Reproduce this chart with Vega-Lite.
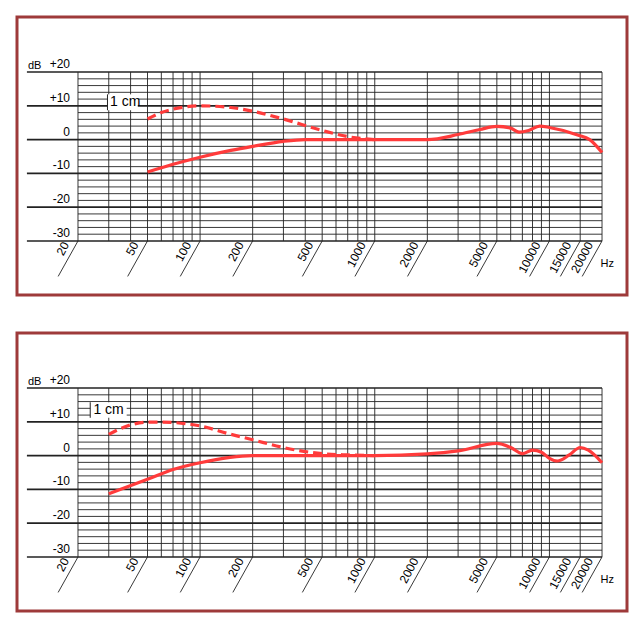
{
"$schema":"https://vega.github.io/schema/vega-lite/v6.json",
"autosize":{"type":"pad"},
"padding":{"left":15,"top":15,"right":0,"bottom":0},
"spacing":34,
"config":{"view":{"stroke":"#9e3a3a","strokeWidth":3},"text":{"font":"Liberation Sans","fontSize":12}},
"datasets":{
"vl":[{"f":20},{"f":30},{"f":40},{"f":50},{"f":60},{"f":70},{"f":80},{"f":90},{"f":100},{"f":200},{"f":300},{"f":400},{"f":500},{"f":600},{"f":700},{"f":800},{"f":900},{"f":1000},{"f":2000},{"f":3000},{"f":4000},{"f":5000},{"f":6000},{"f":7000},{"f":8000},{"f":9000},{"f":10000},{"f":15000},{"f":20000}],
"hl":[{"y":-30,"m":1},{"y":-28,"m":0},{"y":-26,"m":0},{"y":-24,"m":0},{"y":-22,"m":0},{"y":-20,"m":1},{"y":-18,"m":0},{"y":-16,"m":0},{"y":-14,"m":0},{"y":-12,"m":0},{"y":-10,"m":1},{"y":-8,"m":0},{"y":-6,"m":0},{"y":-4,"m":0},{"y":-2,"m":0},{"y":0,"m":1},{"y":2,"m":0},{"y":4,"m":0},{"y":6,"m":0},{"y":8,"m":0},{"y":10,"m":1},{"y":12,"m":0},{"y":14,"m":0},{"y":16,"m":0},{"y":18,"m":0},{"y":20,"m":1}],
"yl":[{"y":20,"t":"+20"},{"y":10,"t":"+10"},{"y":0,"t":"0"},{"y":-10,"t":"-10"},{"y":-20,"t":"-20"},{"y":-30,"t":"-30"}],
"xl":[{"f":20},{"f":50},{"f":100},{"f":200},{"f":500},{"f":1000},{"f":2000},{"f":5000},{"f":10000},{"f":15000},{"f":20000}],
"cv":[
{"p":1,"s":"solid","f":50,"v":-9.6},{"p":1,"s":"solid","f":70,"v":-7.3},{"p":1,"s":"solid","f":100,"v":-5.2},{"p":1,"s":"solid","f":150,"v":-3.2},{"p":1,"s":"solid","f":200,"v":-2},{"p":1,"s":"solid","f":300,"v":-0.5},{"p":1,"s":"solid","f":400,"v":0},{"p":1,"s":"solid","f":1000,"v":0},{"p":1,"s":"solid","f":2000,"v":0},{"p":1,"s":"solid","f":3000,"v":1.5},{"p":1,"s":"solid","f":4000,"v":3},{"p":1,"s":"solid","f":5000,"v":3.9},{"p":1,"s":"solid","f":6000,"v":3.4},{"p":1,"s":"solid","f":6700,"v":2.2},{"p":1,"s":"solid","f":7600,"v":2.7},{"p":1,"s":"solid","f":8800,"v":4},{"p":1,"s":"solid","f":10000,"v":3.6},{"p":1,"s":"solid","f":14500,"v":1.4},{"p":1,"s":"solid","f":17000,"v":0},{"p":1,"s":"solid","f":20000,"v":-3.8},
{"p":1,"s":"dash","f":50,"v":6.1},{"p":1,"s":"dash","f":60,"v":8},{"p":1,"s":"dash","f":80,"v":9.6},{"p":1,"s":"dash","f":100,"v":10},{"p":1,"s":"dash","f":150,"v":9.5},{"p":1,"s":"dash","f":200,"v":8.4},{"p":1,"s":"dash","f":300,"v":6.1},{"p":1,"s":"dash","f":500,"v":2.7},{"p":1,"s":"dash","f":700,"v":0.9},{"p":1,"s":"dash","f":1000,"v":0},
{"p":2,"s":"solid","f":30,"v":-11.3},{"p":2,"s":"solid","f":50,"v":-7},{"p":2,"s":"solid","f":70,"v":-4.1},{"p":2,"s":"solid","f":100,"v":-2.1},{"p":2,"s":"solid","f":200,"v":0},{"p":2,"s":"solid","f":1000,"v":0},{"p":2,"s":"solid","f":2000,"v":0.5},{"p":2,"s":"solid","f":3000,"v":1.4},{"p":2,"s":"solid","f":5000,"v":3.6},{"p":2,"s":"solid","f":6000,"v":2.4},{"p":2,"s":"solid","f":7000,"v":0.6},{"p":2,"s":"solid","f":8000,"v":1.6},{"p":2,"s":"solid","f":9000,"v":1.0},{"p":2,"s":"solid","f":10000,"v":-0.8},{"p":2,"s":"solid","f":11100,"v":-1.6},{"p":2,"s":"solid","f":13000,"v":0.2},{"p":2,"s":"solid","f":15000,"v":2.4},{"p":2,"s":"solid","f":16700,"v":1.6},{"p":2,"s":"solid","f":20000,"v":-2.1},
{"p":2,"s":"dash","f":30,"v":6.3},{"p":2,"s":"dash","f":40,"v":9.1},{"p":2,"s":"dash","f":50,"v":9.9},{"p":2,"s":"dash","f":60,"v":9.9},{"p":2,"s":"dash","f":100,"v":8.8},{"p":2,"s":"dash","f":150,"v":6.3},{"p":2,"s":"dash","f":200,"v":4.7},{"p":2,"s":"dash","f":300,"v":2.4},{"p":2,"s":"dash","f":400,"v":1.2},{"p":2,"s":"dash","f":500,"v":0.6},{"p":2,"s":"dash","f":700,"v":0.2},{"p":2,"s":"dash","f":1000,"v":0}],
"lab":[{"p":1,"x":29.5,"x2":44,"y":8.7,"y2":13.4,"tx":30.5,"ty":11},{"p":2,"x":23.5,"x2":38,"y":11.2,"y2":15.8,"tx":24.5,"ty":13.5}],
"misc":[{"x":11.3,"y":20,"t":"dB"},{"x":21400,"y":-38.6,"t":"Hz"}]
},
"vconcat":[
{"width":610,"height":278,
"layer":[
{"data":{"name":"vl"},"mark":{"type":"rule","color":"#222","strokeWidth":0.9},"encoding":{"x":{"field":"f","type":"quantitative","scale":{"type":"log","domain":[8.95,27800],"nice":false},"axis":null},"y":{"datum":-30,"type":"quantitative","scale":{"domain":[-46,36.3],"nice":false,"zero":false},"axis":null},"y2":{"datum":20}}},
{"data":{"name":"hl"},"transform":[{"calculate":"datum.m==1?10.2:20","as":"x0"}],"mark":{"type":"rule","color":"#222"},"encoding":{"x":{"field":"x0","type":"quantitative"},"x2":{"datum":20000},"y":{"field":"y","type":"quantitative"},"strokeWidth":{"field":"m","type":"quantitative","scale":{"domain":[0,1],"range":[0.9,1.6]},"legend":null}}},
{"data":{"name":"xl"},"transform":[{"calculate":"datum.f*0.77","as":"f2"}],"mark":{"type":"rule","color":"#222","strokeWidth":0.9},"encoding":{"x":{"field":"f","type":"quantitative"},"x2":{"field":"f2"},"y":{"datum":-30},"y2":{"datum":-40.5}}},
{"data":{"name":"xl"},"transform":[{"calculate":"datum.f*0.925","as":"f3"}],"mark":{"type":"text","angle":-62,"align":"right","baseline":"bottom","fontSize":12},"encoding":{"x":{"field":"f3","type":"quantitative"},"y":{"datum":-31.5},"text":{"field":"f"}}},
{"data":{"name":"yl"},"mark":{"type":"text","align":"right","baseline":"bottom","dy":-1},"encoding":{"x":{"datum":18},"y":{"field":"y","type":"quantitative"},"text":{"field":"t"}}},
{"data":{"name":"misc"},"mark":{"type":"text","baseline":"bottom","dy":-1,"fontSize":11},"encoding":{"x":{"field":"x","type":"quantitative"},"y":{"field":"y","type":"quantitative"},"text":{"field":"t"}}},
{"data":{"name":"lab"},"transform":[{"filter":"datum.p==1"}],"mark":{"type":"rect","fill":"white"},"encoding":{"x":{"field":"x","type":"quantitative"},"x2":{"field":"x2"},"y":{"field":"y","type":"quantitative"},"y2":{"field":"y2"}}},
{"data":{"name":"lab"},"transform":[{"filter":"datum.p==1"}],"mark":{"type":"rule","color":"#222"},"encoding":{"x":{"field":"x","type":"quantitative"},"y":{"field":"y","type":"quantitative"},"y2":{"field":"y2"}}},
{"data":{"name":"lab"},"transform":[{"filter":"datum.p==1"}],"mark":{"type":"text","align":"left","fontSize":14,"text":"1 cm"},"encoding":{"x":{"field":"tx","type":"quantitative"},"y":{"field":"ty","type":"quantitative"}}},
{"data":{"name":"cv"},"transform":[{"filter":"datum.p==1 && datum.s=='solid'"}],"mark":{"type":"line","color":"#ff3b3b","strokeWidth":3.2,"interpolate":"monotone"},"encoding":{"x":{"field":"f","type":"quantitative"},"y":{"field":"v","type":"quantitative"}}},
{"data":{"name":"cv"},"transform":[{"filter":"datum.p==1 && datum.s=='dash'"}],"mark":{"type":"line","color":"#ff3b3b","strokeWidth":3.2,"strokeDash":[9,5],"interpolate":"monotone"},"encoding":{"x":{"field":"f","type":"quantitative"},"y":{"field":"v","type":"quantitative"}}}
]},
{"width":610,"height":278,
"layer":[
{"data":{"name":"vl"},"mark":{"type":"rule","color":"#222","strokeWidth":0.9},"encoding":{"x":{"field":"f","type":"quantitative","scale":{"type":"log","domain":[8.95,27800],"nice":false},"axis":null},"y":{"datum":-30,"type":"quantitative","scale":{"domain":[-46,36.3],"nice":false,"zero":false},"axis":null},"y2":{"datum":20}}},
{"data":{"name":"hl"},"transform":[{"calculate":"datum.m==1?10.2:20","as":"x0"}],"mark":{"type":"rule","color":"#222"},"encoding":{"x":{"field":"x0","type":"quantitative"},"x2":{"datum":20000},"y":{"field":"y","type":"quantitative"},"strokeWidth":{"field":"m","type":"quantitative","scale":{"domain":[0,1],"range":[0.9,1.6]},"legend":null}}},
{"data":{"name":"xl"},"transform":[{"calculate":"datum.f*0.77","as":"f2"}],"mark":{"type":"rule","color":"#222","strokeWidth":0.9},"encoding":{"x":{"field":"f","type":"quantitative"},"x2":{"field":"f2"},"y":{"datum":-30},"y2":{"datum":-40.5}}},
{"data":{"name":"xl"},"transform":[{"calculate":"datum.f*0.925","as":"f3"}],"mark":{"type":"text","angle":-62,"align":"right","baseline":"bottom","fontSize":12},"encoding":{"x":{"field":"f3","type":"quantitative"},"y":{"datum":-31.5},"text":{"field":"f"}}},
{"data":{"name":"yl"},"mark":{"type":"text","align":"right","baseline":"bottom","dy":-1},"encoding":{"x":{"datum":18},"y":{"field":"y","type":"quantitative"},"text":{"field":"t"}}},
{"data":{"name":"misc"},"mark":{"type":"text","baseline":"bottom","dy":-1,"fontSize":11},"encoding":{"x":{"field":"x","type":"quantitative"},"y":{"field":"y","type":"quantitative"},"text":{"field":"t"}}},
{"data":{"name":"lab"},"transform":[{"filter":"datum.p==2"}],"mark":{"type":"rect","fill":"white"},"encoding":{"x":{"field":"x","type":"quantitative"},"x2":{"field":"x2"},"y":{"field":"y","type":"quantitative"},"y2":{"field":"y2"}}},
{"data":{"name":"lab"},"transform":[{"filter":"datum.p==2"}],"mark":{"type":"rule","color":"#222"},"encoding":{"x":{"field":"x","type":"quantitative"},"y":{"field":"y","type":"quantitative"},"y2":{"field":"y2"}}},
{"data":{"name":"lab"},"transform":[{"filter":"datum.p==2"}],"mark":{"type":"text","align":"left","fontSize":14,"text":"1 cm"},"encoding":{"x":{"field":"tx","type":"quantitative"},"y":{"field":"ty","type":"quantitative"}}},
{"data":{"name":"cv"},"transform":[{"filter":"datum.p==2 && datum.s=='solid'"}],"mark":{"type":"line","color":"#ff3b3b","strokeWidth":3.2,"interpolate":"monotone"},"encoding":{"x":{"field":"f","type":"quantitative"},"y":{"field":"v","type":"quantitative"}}},
{"data":{"name":"cv"},"transform":[{"filter":"datum.p==2 && datum.s=='dash'"}],"mark":{"type":"line","color":"#ff3b3b","strokeWidth":3.2,"strokeDash":[9,5],"interpolate":"monotone"},"encoding":{"x":{"field":"f","type":"quantitative"},"y":{"field":"v","type":"quantitative"}}}
]}
]
}
